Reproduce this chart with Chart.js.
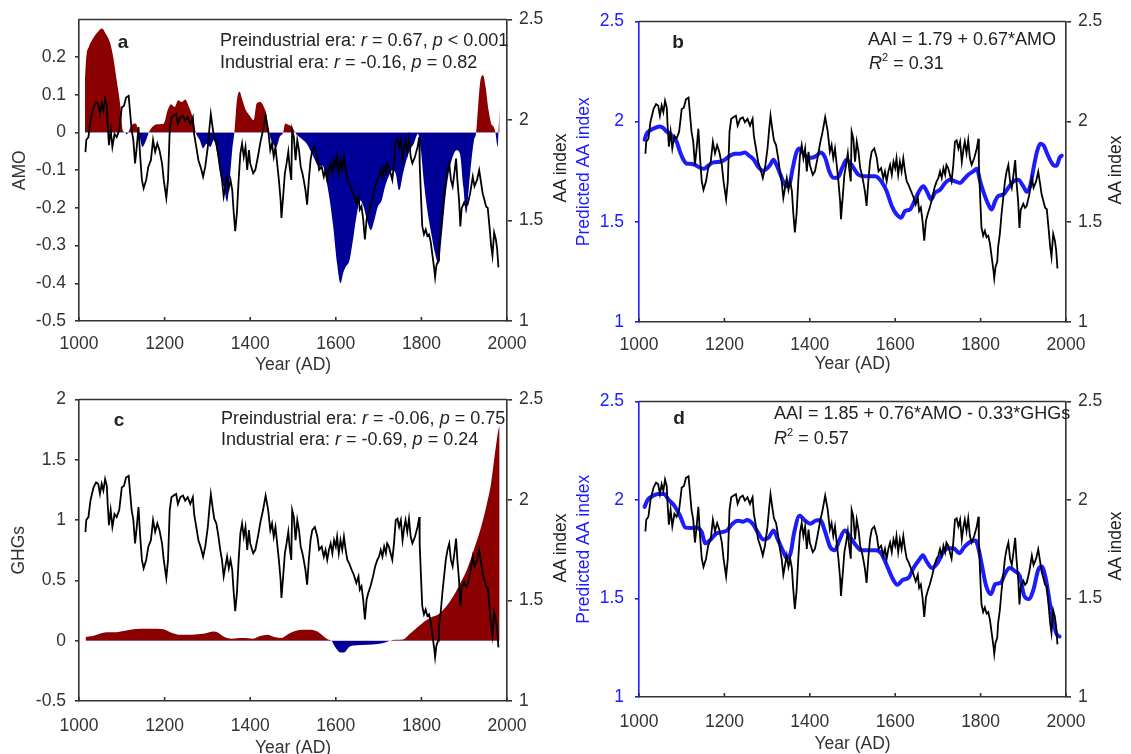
<!DOCTYPE html>
<html lang="en">
<head>
<meta charset="UTF-8">
<title>AMO, GHGs and AA index</title>
<script src="https://cdn.jsdelivr.net/npm/chart.js"></script>
<style>
    html, body { margin: 0; padding: 0; background: #fff; }
    body {
        width: 1131px; height: 754px; overflow: hidden; position: relative;
        font-family: "Liberation Sans", Arial, sans-serif; color: #222;
    }
    canvas { position: absolute; }
    .note { position: absolute; font-size: 18px; line-height: 1; white-space: nowrap; transform: translateY(-50%); }
    .letter { position: absolute; font-size: 19px; font-weight: bold; line-height: 1; transform: translate(-50%, -50%); }
    .vtitle { position: absolute; font-size: 17.5px; line-height: 1; white-space: nowrap; transform: translate(-50%, -50%) rotate(-90deg); }
    sup { font-size: 11px; line-height: 0; vertical-align: 8px; }
</style>
</head>
<body>

<canvas id="chartA" width="580" height="390" style="left:0;top:0"></canvas>
<canvas id="chartB" width="566" height="390" style="left:565px;top:0"></canvas>
<canvas id="chartC" width="580" height="390" style="left:0;top:380px"></canvas>
<canvas id="chartD" width="566" height="390" style="left:565px;top:380px"></canvas>

<!-- panel a -->
<div class="letter" style="left:123px;top:41px">a</div>
<div class="note" style="left:220px;top:40px">Preindustrial era: <i>r</i> = 0.67, <i>p</i> &lt; 0.001</div>
<div class="note" style="left:220px;top:62px">Industrial era: <i>r</i> = -0.16, <i>p</i> = 0.82</div>
<div class="vtitle" style="left:561px;top:168px">AA index</div>
<!-- panel b -->
<div class="letter" style="left:678px;top:41px">b</div>
<div class="note" style="left:868px;top:39px">AAI = 1.79 + 0.67*AMO</div>
<div class="note" style="left:869px;top:63px"><i>R</i><sup>2</sup> = 0.31</div>
<div class="vtitle" style="left:1116px;top:170px">AA index</div>
<!-- panel c -->
<div class="letter" style="left:119px;top:419px">c</div>
<div class="note" style="left:221px;top:418px">Preindustrial era: <i>r</i> = -0.06, <i>p</i> = 0.75</div>
<div class="note" style="left:221px;top:439px">Industrial era: <i>r</i> = -0.69, <i>p</i> = 0.24</div>
<div class="vtitle" style="left:561px;top:548px">AA index</div>
<!-- panel d -->
<div class="letter" style="left:679px;top:417px">d</div>
<div class="note" style="left:774px;top:413px">AAI = 1.85 + 0.76*AMO - 0.33*GHGs</div>
<div class="note" style="left:774px;top:438px"><i>R</i><sup>2</sup> = 0.57</div>
<div class="vtitle" style="left:1116px;top:546px">AA index</div>

<script>
// tick labels
const yearTicks = [1000, 1200, 1400, 1600, 1800, 2000];
const aaTicks = [1, 1.5, 2, 2.5];
const amoTicks = [-0.5, -0.4, -0.3, -0.2, -0.1, 0, 0.1, 0.2];
const ghgTicks = [-0.5, 0, 0.5, 1, 1.5, 2];

// AA index reconstruction (black line, same in all panels)
const aaYears = [1015, 1017, 1022, 1027, 1034, 1040, 1045, 1049, 1053, 1057, 1061, 1065, 1067, 1070, 1074, 1078, 1083, 1088, 1094, 1100,
    1105, 1110, 1116, 1119, 1123, 1127, 1131, 1135, 1139, 1143, 1147, 1151, 1157, 1162, 1168, 1173, 1178, 1183, 1188, 1194,
    1198, 1204, 1208, 1212, 1216, 1221, 1227, 1231, 1237, 1243, 1248, 1254, 1260, 1266, 1269, 1274, 1279, 1285, 1290, 1295,
    1301, 1305, 1308, 1313, 1316, 1321, 1326, 1330, 1334, 1338, 1342, 1346, 1350, 1354, 1358, 1361, 1365, 1369, 1373, 1377,
    1381, 1385, 1389, 1393, 1397, 1400, 1407, 1412, 1418, 1424, 1430, 1436, 1442, 1447, 1451, 1455, 1459, 1463, 1467, 1471,
    1473, 1477, 1481, 1485, 1489, 1492, 1496, 1498, 1502, 1506, 1510, 1514, 1518, 1522, 1525, 1529, 1533, 1537, 1541, 1545,
    1551, 1557, 1561, 1567, 1572, 1576, 1580, 1584, 1588, 1592, 1596, 1600, 1603, 1607, 1611, 1615, 1619, 1623, 1627, 1631,
    1637, 1642, 1648, 1653, 1656, 1660, 1664, 1668, 1672, 1676, 1681, 1687, 1692, 1697, 1701, 1705, 1709, 1713, 1717, 1720,
    1724, 1728, 1732, 1736, 1740, 1744, 1748, 1752, 1756, 1760, 1763, 1767, 1771, 1775, 1779, 1785, 1791, 1795, 1796, 1799,
    1802, 1806, 1810, 1814, 1818, 1822, 1826, 1830, 1832, 1835, 1839, 1841, 1845, 1849, 1853, 1857, 1861, 1865, 1869, 1873,
    1877, 1881, 1884, 1888, 1891, 1894, 1900, 1904, 1908, 1914, 1920, 1924, 1930, 1935, 1939, 1943, 1947, 1951, 1955, 1959,
    1963, 1966, 1970, 1974, 1977, 1980];
const aaIndex = [1.84, 1.90, 1.915, 2.00, 2.063, 2.088, 2.08, 2.03, 2.08, 2.047, 2.104, 2.07, 1.98, 1.875, 1.95, 1.866, 1.93, 1.915, 1.95, 2.063,
    2.07, 2.112, 2.12, 2.047, 1.95, 1.90, 1.784, 1.866, 1.965, 1.817, 1.702, 1.66, 1.702, 1.768, 1.80, 1.90, 1.842, 1.883, 1.85, 1.784,
    1.702, 1.612, 1.702, 1.95, 2.014, 2.022, 2.03, 1.98, 2.014, 2.022, 1.997, 2.014, 1.98, 2.014, 1.93, 1.866, 1.80, 1.76, 1.718, 1.768,
    1.866, 1.965, 2.03, 1.95, 1.907, 1.883, 1.817, 1.752, 1.702, 1.62, 1.67, 1.718, 1.66, 1.702, 1.653, 1.554, 1.447, 1.538, 1.702, 1.833,
    1.883, 1.817, 1.866, 1.752, 1.85, 1.784, 1.735, 1.752, 1.817, 1.891, 1.95, 2.022, 1.95, 1.85, 1.883, 1.817, 1.866, 1.784, 1.702, 1.603,
    1.513, 1.62, 1.735, 1.784, 1.842, 1.768, 1.702, 1.95, 1.915, 1.80, 1.90, 1.85, 1.768, 1.735, 1.702, 1.653, 1.579, 1.702, 1.80, 1.85,
    1.866, 1.817, 1.752, 1.768, 1.718, 1.752, 1.702, 1.752, 1.784, 1.735, 1.80, 1.768, 1.817, 1.735, 1.80, 1.752, 1.817, 1.752, 1.702, 1.686,
    1.653, 1.628, 1.587, 1.62, 1.554, 1.571, 1.505, 1.406, 1.505, 1.538, 1.571, 1.62, 1.67, 1.702, 1.718, 1.752, 1.718, 1.768, 1.735, 1.784,
    1.768, 1.735, 1.702, 1.784, 1.90, 1.907, 1.866, 1.90, 1.80, 1.866, 1.90, 1.842, 1.907, 1.817, 1.784, 1.817, 1.866, 1.915, 1.784, 1.62,
    1.472, 1.431, 1.455, 1.423, 1.431, 1.39, 1.324, 1.259, 1.218, 1.275, 1.30, 1.374, 1.439, 1.538, 1.62, 1.702, 1.752, 1.784, 1.702, 1.67,
    1.735, 1.808, 1.702, 1.60, 1.47, 1.56, 1.59, 1.57, 1.58, 1.636, 1.718, 1.67, 1.702, 1.75, 1.694, 1.636, 1.604, 1.57, 1.563, 1.472,
    1.374, 1.325, 1.44, 1.406, 1.357, 1.267];

// predicted AA index from AMO (panel b, blue)
const predBYears = [1013, 1018, 1026, 1037, 1049, 1057, 1065, 1073, 1080, 1088, 1096, 1104, 1112, 1119, 1131, 1143, 1152, 1162, 1174, 1190,
    1201, 1213, 1225, 1237, 1248, 1258, 1269, 1279, 1290, 1299, 1307, 1315, 1322, 1330, 1338, 1346, 1352, 1360, 1368, 1375,
    1385, 1393, 1404, 1416, 1425, 1436, 1446, 1455, 1465, 1476, 1486, 1498, 1514, 1529, 1553, 1568, 1580, 1592, 1603, 1614,
    1623, 1635, 1645, 1656, 1666, 1674, 1684, 1693, 1705, 1717, 1728, 1740, 1752, 1760, 1771, 1783, 1791, 1799, 1806, 1818,
    1826, 1834, 1841, 1853, 1865, 1877, 1888, 1900, 1908, 1916, 1924, 1932, 1940, 1948, 1956, 1965, 1973, 1978, 1985, 1990];
const predB = [1.91, 1.94, 1.956, 1.968, 1.976, 1.968, 1.95, 1.94, 1.92, 1.90, 1.85, 1.81, 1.79, 1.79, 1.784, 1.77, 1.765, 1.78, 1.797, 1.80,
    1.81, 1.83, 1.84, 1.84, 1.846, 1.83, 1.81, 1.775, 1.755, 1.765, 1.784, 1.81, 1.784, 1.743, 1.70, 1.677, 1.685, 1.768, 1.842, 1.866,
    1.84, 1.825, 1.82, 1.83, 1.846, 1.82, 1.75, 1.72, 1.72, 1.77, 1.81, 1.784, 1.735, 1.727, 1.727, 1.70, 1.653, 1.579, 1.538, 1.521,
    1.554, 1.562, 1.603, 1.653, 1.677, 1.653, 1.612, 1.645, 1.66, 1.694, 1.71, 1.702, 1.694, 1.71, 1.735, 1.752, 1.765, 1.702, 1.653, 1.587,
    1.562, 1.603, 1.628, 1.636, 1.67, 1.702, 1.71, 1.677, 1.65, 1.677, 1.768, 1.85, 1.89, 1.88, 1.84, 1.80, 1.78, 1.78, 1.82, 1.83];

// predicted AA index from AMO and GHGs (panel d, blue)
const predDYears = [1013, 1020, 1032, 1045, 1058, 1070, 1083, 1096, 1109, 1121, 1134, 1147, 1155, 1168, 1181, 1194, 1206, 1219, 1232, 1244,
    1253, 1266, 1278, 1291, 1304, 1315, 1325, 1338, 1346, 1355, 1363, 1376, 1389, 1401, 1414, 1425, 1435, 1448, 1459, 1469,
    1482, 1495, 1508, 1520, 1537, 1554, 1567, 1580, 1593, 1605, 1618, 1631, 1643, 1656, 1665, 1673, 1686, 1699, 1711, 1724,
    1737, 1750, 1762, 1775, 1788, 1796, 1805, 1813, 1824, 1834, 1847, 1858, 1868, 1881, 1892, 1902, 1913, 1924, 1935, 1943,
    1953, 1962, 1970, 1979, 1985];
const predD = [1.965, 2.00, 2.02, 2.03, 2.03, 2.00, 1.97, 1.92, 1.86, 1.858, 1.86, 1.837, 1.78, 1.80, 1.83, 1.837, 1.845, 1.88, 1.895, 1.89,
    1.898, 1.88, 1.837, 1.80, 1.81, 1.845, 1.80, 1.738, 1.705, 1.73, 1.83, 1.92, 1.895, 1.88, 1.895, 1.898, 1.845, 1.76, 1.745, 1.795,
    1.845, 1.81, 1.77, 1.745, 1.745, 1.745, 1.73, 1.67, 1.605, 1.57, 1.595, 1.605, 1.655, 1.696, 1.72, 1.69, 1.655, 1.68, 1.73, 1.755,
    1.755, 1.73, 1.762, 1.787, 1.795, 1.745, 1.646, 1.564, 1.522, 1.572, 1.58, 1.63, 1.655, 1.638, 1.613, 1.514, 1.497, 1.547, 1.646, 1.663,
    1.597, 1.48, 1.38, 1.315, 1.307];

// AMO reconstruction (panel a, filled about zero)
const amoYears = [1014, 1017, 1023, 1033, 1044, 1054, 1062, 1072, 1080, 1088, 1097, 1102, 1108, 1111, 1115, 1123, 1132, 1140, 1148, 1157,
    1163, 1173, 1186, 1198, 1207, 1215, 1223, 1232, 1240, 1248, 1257, 1265, 1273, 1282, 1290, 1298, 1307, 1315, 1323, 1332,
    1340, 1346, 1352, 1358, 1363, 1369, 1375, 1382, 1390, 1398, 1408, 1415, 1423, 1432, 1438, 1444, 1453, 1461, 1469, 1477,
    1482, 1490, 1498, 1505, 1515, 1532, 1548, 1561, 1569, 1578, 1586, 1594, 1603, 1611, 1617, 1623, 1632, 1640, 1648, 1657,
    1665, 1673, 1682, 1690, 1698, 1707, 1715, 1723, 1732, 1740, 1748, 1757, 1765, 1773, 1782, 1792, 1798, 1807, 1815, 1823,
    1832, 1840, 1848, 1857, 1865, 1873, 1882, 1890, 1898, 1905, 1911, 1917, 1923, 1928, 1933, 1938, 1944, 1950, 1957, 1963,
    1969, 1973, 1978, 1980, 1983];
const amo = [0.14, 0.2, 0.227, 0.25, 0.267, 0.276, 0.263, 0.24, 0.20, 0.139, 0.068, 0.006, 0, -0.005, 0, 0.02, 0.024, 0, -0.038, -0.02,
    0, 0.017, 0.022, 0.024, 0.059, 0.075, 0.068, 0.086, 0.081, 0.088, 0.068, 0.042, 0, -0.02, -0.042, -0.03, -0.038, -0.02, -0.056, -0.118,
    -0.153, -0.184, -0.127, -0.047, 0, 0.086, 0.108, 0.086, 0.059, 0.046, 0.033, 0.077, 0.081, 0.068, 0.046, 0, -0.03, -0.038, -0.012, 0,
    0.024, 0.02, 0.015, 0, -0.012, -0.03, -0.065, -0.091, -0.087, -0.127, -0.18, -0.25, -0.348, -0.40, -0.374, -0.357, -0.339, -0.286, -0.224, -0.18,
    -0.197, -0.233, -0.259, -0.233, -0.197, -0.18, -0.144, -0.118, -0.10, -0.109, -0.153, -0.109, -0.073, -0.047, -0.03, -0.003, -0.038, -0.144, -0.215, -0.268,
    -0.321, -0.348, -0.268, -0.162, -0.10, -0.065, -0.047, -0.056, -0.144, -0.215, -0.144, -0.073, -0.02, 0, 0.077, 0.139, 0.152, 0.121, 0.059, 0.024,
    0.015, 0, -0.038, 0, 0.068];

// greenhouse gas forcing (panel c, filled about zero)
const ghgYears = [1015, 1032, 1048, 1065, 1082, 1107, 1132, 1157, 1182, 1198, 1215, 1232, 1265, 1290, 1315, 1323, 1340, 1357, 1382, 1407,
    1423, 1440, 1457, 1473, 1490, 1507, 1523, 1540, 1557, 1569, 1582, 1590, 1598, 1611, 1619, 1632, 1648, 1673, 1698, 1719,
    1727, 1740, 1757, 1773, 1790, 1807, 1823, 1840, 1857, 1873, 1890, 1907, 1923, 1940, 1952, 1963, 1973, 1980, 1983];
const ghg = [0.03, 0.038, 0.057, 0.07, 0.07, 0.083, 0.097, 0.10, 0.10, 0.094, 0.067, 0.05, 0.05, 0.057, 0.076, 0.07, 0.03, 0.016, 0.022, 0.016,
    0.038, 0.05, 0.03, 0.022, 0.057, 0.083, 0.09, 0.09, 0.076, 0.044, 0.01, 0, -0.05, -0.097, -0.097, -0.05, -0.038, -0.033, -0.027, -0.01,
    0, 0.008, 0.01, 0.057, 0.11, 0.16, 0.195, 0.22, 0.28, 0.36, 0.47, 0.595, 0.76, 0.95, 1.12, 1.31, 1.585, 1.75, 1.78];

const INK = '#333';
const BLUE = '#1c1cff';
const RED = '#8b0000';
const NAVY = '#000099';
const FONT = "'Liberation Sans', Arial, sans-serif";

function pts(xs, ys) {
    return xs.map((x, i) => ({ x: x, y: ys[i] }));
}

// top frame line and small inward ticks on the year axis
const frame = {
    id: 'frame',
    afterDraw(chart) {
        const ctx = chart.ctx;
        const a = chart.chartArea;
        const x = chart.scales.x;
        ctx.save();
        ctx.strokeStyle = INK;
        ctx.lineWidth = 1.6;
        ctx.beginPath();
        ctx.moveTo(a.left, a.top);
        ctx.lineTo(a.right, a.top);
        x.ticks.forEach(t => {
            const px = x.getPixelForValue(t.value);
            ctx.moveTo(px, a.bottom);
            ctx.lineTo(px, a.bottom - 4);
        });
        ctx.stroke();
        ctx.restore();
    }
};

function valueAxis(o) {
    return {
        type: 'linear',
        position: o.position,
        min: o.min,
        max: o.max,
        afterBuildTicks: s => { s.ticks = o.ticks.map(v => ({ value: v })); },
        afterFit: s => { s.width = o.width; },
        grid: { drawOnChartArea: false, drawTicks: true, tickLength: o.tick, color: o.color, lineWidth: 1.6 },
        border: { color: o.color, width: 1.6 },
        ticks: {
            color: o.color, padding: o.pad,
            font: { family: FONT, size: 17.5 },
            callback: v => String(+v.toFixed(2))
        },
        title: {
            display: !!o.title, text: o.title || '', color: o.color,
            font: { family: FONT, size: 17.5 },
            padding: { top: o.titlePad || 0, bottom: 0 }
        }
    };
}

function yearAxis(o) {
    return {
        type: 'linear',
        position: 'bottom',
        min: 1000,
        max: 2000,
        afterBuildTicks: s => { s.ticks = yearTicks.map(v => ({ value: v })); },
        afterFit: s => { s.height = o.height; },
        grid: { drawOnChartArea: false, drawTicks: false },
        border: { color: INK, width: 1.6 },
        ticks: {
            color: INK, padding: o.pad, maxRotation: 0, autoSkip: false,
            font: { family: FONT, size: 17.5 },
            callback: v => String(v)
        },
        title: {
            display: true, text: 'Year (AD)', color: INK,
            font: { family: FONT, size: 17.5 },
            padding: { top: 0, bottom: o.titlePad }
        }
    };
}

function options(padTop, scales) {
    return {
        responsive: false,
        animation: false,
        events: [],
        layout: { padding: { top: padTop, left: 0, right: 0, bottom: 0 } },
        plugins: { legend: { display: false }, tooltip: { enabled: false } },
        scales: scales
    };
}

function blackLine() {
    return {
        data: pts(aaYears, aaIndex), yAxisID: 'yR',
        borderColor: '#000', borderWidth: 1.8, pointRadius: 0, tension: 0, fill: false
    };
}

function areaSet(xs, ys) {
    return {
        data: pts(xs, ys), yAxisID: 'yL',
        borderWidth: 0, borderColor: 'rgba(0,0,0,0)', pointRadius: 0,
        tension: 0.3, cubicInterpolationMode: 'monotone',
        fill: { target: 'origin', above: RED, below: NAVY }
    };
}

function blueLine(xs, ys) {
    return {
        data: pts(xs, ys), yAxisID: 'yL',
        borderColor: BLUE, borderWidth: 4, pointRadius: 0,
        tension: 0.3, cubicInterpolationMode: 'monotone',
        borderCapStyle: 'round', borderJoinStyle: 'round', fill: false
    };
}

function rightAxis(width) {
    return valueAxis({ position: 'right', min: 1, max: 2.5, ticks: aaTicks, width: width, tick: 5, pad: 7, color: INK });
}

// a: AMO vs AA index
new Chart(document.getElementById('chartA'), {
    type: 'line',
    data: { datasets: [blackLine(), areaSet(amoYears, amo)] },
    options: options(16, {
        x: yearAxis({ height: 69, pad: 13, titlePad: 14 }),
        yL: valueAxis({ position: 'left', min: -0.5, max: 0.3, ticks: amoTicks, width: 79, tick: 4, pad: 9, color: INK, title: 'AMO', titlePad: 10 }),
        yR: rightAxis(73)
    }),
    plugins: [frame]
});

// b: predicted (AMO only) vs AA index
new Chart(document.getElementById('chartB'), {
    type: 'line',
    data: { datasets: [blackLine(), blueLine(predBYears, predB)] },
    options: options(17, {
        x: yearAxis({ height: 68, pad: 13, titlePad: 15 }),
        yL: valueAxis({ position: 'left', min: 1, max: 2.5, ticks: aaTicks, width: 74, tick: 4, pad: 11, color: BLUE, title: 'Predicted AA index', titlePad: 9 }),
        yR: rightAxis(65)
    }),
    plugins: [frame]
});

// c: GHGs vs AA index
new Chart(document.getElementById('chartC'), {
    type: 'line',
    data: { datasets: [blackLine(), areaSet(ghgYears, ghg)] },
    options: options(16, {
        x: yearAxis({ height: 69, pad: 15, titlePad: 11 }),
        yL: valueAxis({ position: 'left', min: -0.5, max: 2, ticks: ghgTicks, width: 79, tick: 4, pad: 9, color: INK, title: 'GHGs', titlePad: 9 }),
        yR: rightAxis(73)
    }),
    plugins: [frame]
});

// d: predicted (AMO + GHGs) vs AA index
new Chart(document.getElementById('chartD'), {
    type: 'line',
    data: { datasets: [blackLine(), blueLine(predDYears, predD)] },
    options: options(15, {
        x: yearAxis({ height: 73, pad: 15, titlePad: 15 }),
        yL: valueAxis({ position: 'left', min: 1, max: 2.5, ticks: aaTicks, width: 74, tick: 4, pad: 11, color: BLUE, title: 'Predicted AA index', titlePad: 9 }),
        yR: rightAxis(65)
    }),
    plugins: [frame]
});
</script>
</body>
</html>
